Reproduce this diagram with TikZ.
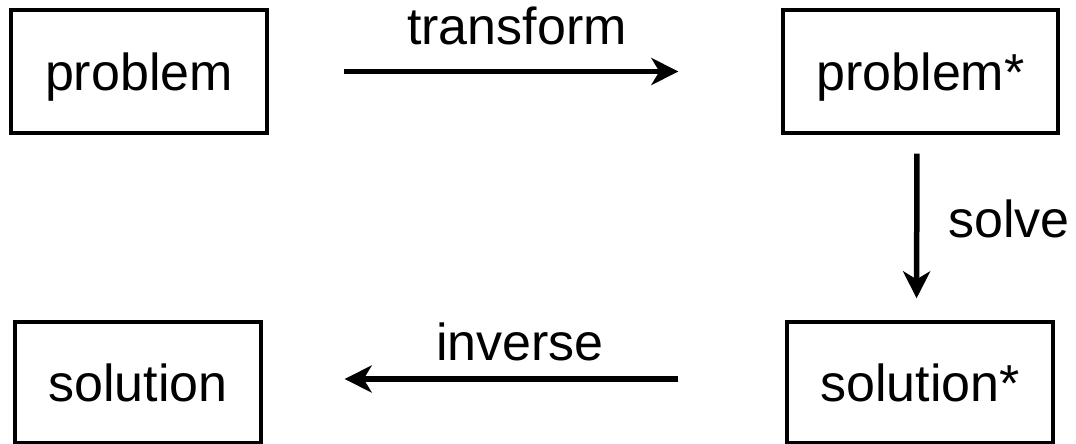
\documentclass[tikz,border=0pt]{standalone}
\usepackage{fontspec}
\setmainfont{Liberation Sans}
\usetikzlibrary{arrows.meta}
\begin{document}
\begin{tikzpicture}[x=1pt,y=-1pt,
  box/.style={draw,line width=3.3pt,inner sep=0pt,text height=38pt,text depth=0pt,
    font=\fontsize{52}{62}\selectfont},
  lbl/.style={anchor=base,inner sep=0pt,font=\fontsize{52}{62}\selectfont},
  flow/.style={line width=5.5pt,-{Stealth[length=27pt,width=27pt,inset=8pt]}}]
\useasboundingbox (0,0) rectangle (1076,444);
% the four states
\node[box,minimum width=256pt,minimum height=123pt] (p)  at (139,71.5)   {problem};
\node[box,minimum width=275pt,minimum height=123pt] (ps) at (920.5,71.5) {problem*};
\node[box,minimum width=246pt,minimum height=121pt] (s)  at (138,382.5)  {solution};
\node[box,minimum width=266pt,minimum height=121pt] (ss) at (920,382.5)  {solution*};
% transitions
\draw[flow,shorten <=75pt,shorten >=103pt] (p.east) -- (ps.west);
\draw[flow,shorten <=19pt,shorten >=22pt] ([xshift=-3.5pt]ps.south) -- ([xshift=-3.5pt]ss.north);
\draw[flow,shorten <=107pt,shorten >=82pt] ([yshift=3.5pt]ss.west) -- ([yshift=3.5pt]s.east);
% transition labels
\node[lbl] (t) at (517,45)  {transform};
\node[lbl] (v) at (1009,237) {solve};
\node[lbl] (i) at (520,360) {inverse};
\end{tikzpicture}
\end{document}
